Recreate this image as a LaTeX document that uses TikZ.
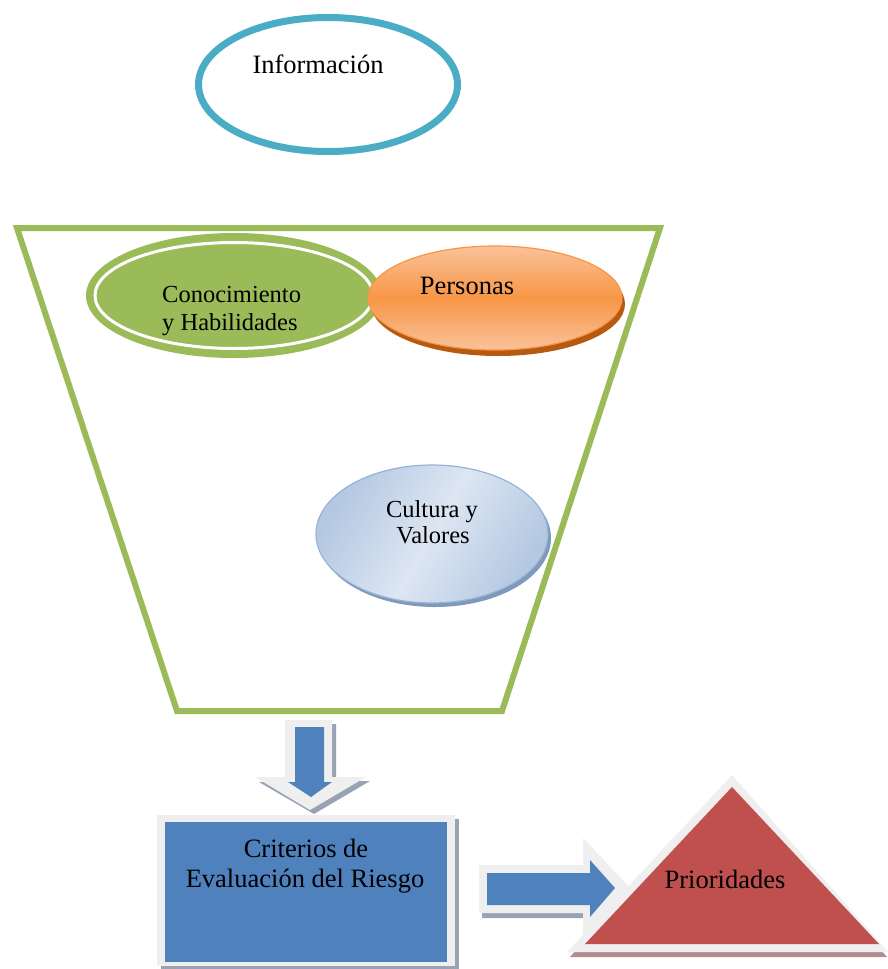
\documentclass[tikz,border=0pt]{standalone}
\usepackage{fontspec}
\setmainfont{Liberation Serif}
\usetikzlibrary{shapes.geometric}
\definecolor{infoblue}{HTML}{4BACC6}
\definecolor{funnelgreen}{HTML}{9BBB59}
\definecolor{orangemain}{HTML}{F79646}
\definecolor{orangelight}{HTML}{FAC29A}
\definecolor{orangeshadow}{HTML}{B65A12}
\definecolor{culturalight}{HTML}{DDE6F2}
\definecolor{culturadark}{HTML}{B4C8E2}
\definecolor{culturaedge}{HTML}{95B3D7}
\definecolor{culturashadow}{HTML}{7F98BC}
\definecolor{arrowblue}{HTML}{4F81BD}
\definecolor{glowgray}{HTML}{EFEFEF}
\definecolor{shadowgray}{HTML}{98A3B4}
\definecolor{prired}{HTML}{C0504D}
\definecolor{redshadow}{HTML}{B38C8C}
\begin{document}
\begin{tikzpicture}[x=1pt,y=-1pt,
  oval/.style={ellipse, inner sep=0pt},
  txt/.style={inner sep=0pt, anchor=base, text=black},
  big/.style={font=\fontsize{26.5}{30}\selectfont},
  mid/.style={font=\fontsize{24.5}{28}\selectfont}]
\useasboundingbox (0,0) rectangle (888,969);

% Informacion
\node[oval, draw=infoblue, line width=7pt, fill=white, minimum width=259pt, minimum height=134pt] (info) at (328,84.5) {};
\node[txt, big] (tinfo) at (318,73) {Información};

% funnel
\draw[line width=6pt, funnelgreen, line join=miter] (17,228) -- (660,228) -- (502,711) -- (177,711) -- cycle;

% Conocimiento
\node[oval, fill=funnelgreen, minimum width=296pt, minimum height=125pt] (conoc) at (234,295.5) {};
\node[oval, draw=white, line width=3pt, minimum width=278pt, minimum height=106pt] (conocring) at (234,295.5) {};
\node[txt, mid, anchor=base west] (tconoc1) at (162,302) {Conocimiento};
\node[txt, mid, anchor=base west] (tconoc2) at (162,330) {y Habilidades};

% Personas
\node[oval, fill=orangeshadow, minimum width=254pt, minimum height=104pt] (persshadow) at (498,304) {};
\node[oval, draw=orangemain, line width=1.2pt, top color=orangelight, bottom color=orangelight, middle color=orangemain, minimum width=254pt, minimum height=104pt] (pers) at (495,298) {};
\node[txt, big] (tpers) at (467,294) {Personas};

% Cultura y Valores
\node[oval, fill=culturashadow, minimum width=232pt, minimum height=138pt] (cultshadow) at (435,538) {};
\node[oval, draw=culturaedge, line width=1.2pt, shading=axis, top color=culturadark, bottom color=culturadark, middle color=culturalight, shading angle=60, minimum width=232pt, minimum height=138pt] (cult) at (432,534) {};
\node[txt, mid] (tcult1) at (432,517) {Cultura y};
\node[txt, mid] (tcult2) at (433,543) {Valores};

% down arrow
\fill[shadowgray] (289,724) -- (336,724) -- (336,781) -- (370,781) -- (314,814) -- (259,782) -- (289,782) -- cycle;
\fill[glowgray] (285,720) -- (332,720) -- (332,777) -- (366,777) -- (310,810) -- (255,777) -- (285,777) -- cycle;
\fill[arrowblue] (295,727) -- (324,727) -- (324,782) -- (332,782) -- (311,797) -- (288,782) -- (295,782) -- cycle;

% Criterios box
\fill[shadowgray] (161,819) rectangle (459,969);
\fill[glowgray] (157,815) rectangle (455,966);
\node[rectangle, fill=arrowblue, inner sep=0pt, minimum width=282pt, minimum height=140pt] (crit) at (306,892) {};
\node[txt, big] (tcrit1) at (306,857) {Criterios de};
\node[txt, big] (tcrit2) at (305,887) {Evaluación del Riesgo};

% right arrow
\fill[shadowgray] (482,869) -- (586,869) -- (586,842) -- (635,894) -- (586,946) -- (586,918) -- (482,918) -- cycle;
\fill[glowgray] (479,865) -- (583,865) -- (583,838) -- (632,890) -- (583,942) -- (583,913) -- (479,913) -- cycle;
\fill[arrowblue] (487,873) -- (590,873) -- (590,860) -- (615,888) -- (590,917) -- (590,905) -- (487,905) -- cycle;

% Prioridades triangle
\fill[redshadow] (732,780) -- (570,957) -- (887,957) -- cycle;
\fill[glowgray] (732,775) -- (567,952) -- (888,952) -- cycle;
\fill[prired] (732,787) -- (585,944) -- (879,944) -- cycle;
\node[txt, big] (tprio) at (725,888) {Prioridades};
\end{tikzpicture}
\end{document}
